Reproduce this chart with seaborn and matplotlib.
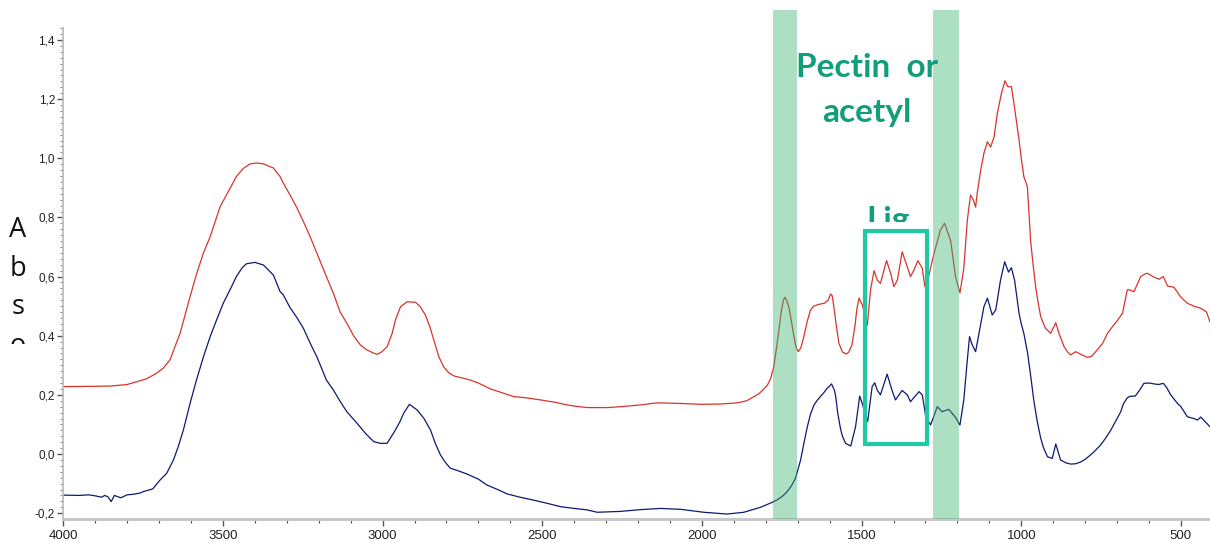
import matplotlib
matplotlib.use("Agg")
import matplotlib.pyplot as plt
import seaborn as sns
from matplotlib.patches import Rectangle
from matplotlib.transforms import Bbox, TransformedBbox
from matplotlib.ticker import MultipleLocator

sns.set_style("white")
plt.rcParams['font.family'] = ['Liberation Sans', 'DejaVu Sans']

# ---------------- data: (wavenumber, absorbance) ----------------
red_spectrum = [
    (3998, 0.228), (3900, 0.229), (3850, 0.230), (3800, 0.235), (3740, 0.254), (3708, 0.273), (3687, 0.290),
    (3665, 0.320), (3646, 0.375), (3634, 0.409), (3603, 0.532), (3582, 0.611), (3561, 0.680), (3540, 0.735),
    (3509, 0.836), (3478, 0.898), (3458, 0.938), (3437, 0.965), (3415, 0.981), (3395, 0.984), (3373, 0.981),
    (3342, 0.967), (3321, 0.938), (3311, 0.916), (3290, 0.876), (3270, 0.836), (3248, 0.786), (3227, 0.735),
    (3206, 0.679), (3176, 0.600), (3154, 0.543), (3133, 0.480), (3112, 0.442), (3091, 0.400), (3070, 0.369),
    (3049, 0.352), (3030, 0.342), (3017, 0.337), (3002, 0.346), (2986, 0.363), (2970, 0.408), (2960, 0.453),
    (2944, 0.498), (2923, 0.515), (2897, 0.513), (2882, 0.498), (2866, 0.470), (2852, 0.430), (2840, 0.386),
    (2824, 0.329), (2809, 0.295), (2793, 0.275), (2777, 0.264), (2750, 0.257), (2725, 0.250), (2700, 0.240),
    (2662, 0.220), (2620, 0.205), (2589, 0.194), (2550, 0.190), (2506, 0.183), (2460, 0.175), (2422, 0.166),
    (2400, 0.162), (2359, 0.157), (2297, 0.157), (2255, 0.160), (2192, 0.166), (2140, 0.173), (2067, 0.171),
    (2004, 0.168), (1942, 0.169), (1889, 0.173), (1860, 0.180), (1837, 0.194), (1820, 0.205), (1795, 0.233),
    (1785, 0.255), (1775, 0.295), (1765, 0.370), (1759, 0.419), (1752, 0.480), (1745, 0.520), (1740, 0.530),
    (1735, 0.520), (1728, 0.498), (1720, 0.450), (1712, 0.397), (1705, 0.360), (1698, 0.346), (1690, 0.360),
    (1681, 0.397), (1670, 0.450), (1660, 0.487), (1650, 0.500), (1634, 0.506), (1616, 0.510), (1605, 0.520),
    (1597, 0.541), (1592, 0.535), (1587, 0.498), (1580, 0.440), (1571, 0.374), (1560, 0.345), (1548, 0.338),
    (1540, 0.345), (1530, 0.370), (1520, 0.440), (1515, 0.490), (1508, 0.527), (1498, 0.505), (1482, 0.436),
    (1472, 0.555), (1461, 0.620), (1451, 0.588), (1441, 0.577), (1422, 0.654), (1409, 0.611), (1399, 0.566),
    (1388, 0.588), (1373, 0.684), (1357, 0.633), (1347, 0.600), (1336, 0.622), (1324, 0.654), (1310, 0.628),
    (1302, 0.566), (1294, 0.583), (1273, 0.679), (1253, 0.758), (1240, 0.780), (1221, 0.720), (1206, 0.600),
    (1192, 0.545), (1180, 0.628), (1169, 0.790), (1159, 0.876), (1150, 0.859), (1143, 0.835), (1138, 0.882),
    (1127, 0.960), (1117, 1.017), (1106, 1.056), (1096, 1.038), (1085, 1.073), (1075, 1.152), (1062, 1.220),
    (1051, 1.262), (1042, 1.242), (1031, 1.242), (1023, 1.186), (1007, 1.062), (1000, 1.000), (992, 0.938),
    (981, 0.904), (975, 0.800), (971, 0.724), (963, 0.640), (955, 0.566), (947, 0.510), (939, 0.464),
    (930, 0.440), (924, 0.425), (908, 0.408), (892, 0.444), (882, 0.408), (866, 0.363), (855, 0.345),
    (845, 0.335), (830, 0.346), (810, 0.335), (793, 0.327), (780, 0.330), (762, 0.352), (745, 0.375),
    (730, 0.408), (715, 0.430), (700, 0.450), (683, 0.476), (668, 0.555), (660, 0.555), (647, 0.549),
    (626, 0.600), (610, 0.610), (605, 0.611), (584, 0.598), (569, 0.591), (555, 0.600), (542, 0.568),
    (522, 0.564), (500, 0.530), (480, 0.510), (460, 0.500), (438, 0.493), (420, 0.480), (409, 0.447),
]

blue_spectrum = [
    (3998, -0.139), (3950, -0.140), (3920, -0.138), (3897, -0.142), (3880, -0.146), (3870, -0.140),
    (3860, -0.145), (3850, -0.161), (3840, -0.140), (3820, -0.148), (3800, -0.138), (3780, -0.136),
    (3760, -0.132), (3749, -0.127), (3720, -0.118), (3697, -0.088), (3676, -0.065), (3655, -0.020),
    (3640, 0.025), (3624, 0.081), (3603, 0.171), (3583, 0.250), (3561, 0.329), (3540, 0.397), (3520, 0.453),
    (3499, 0.510), (3478, 0.555), (3458, 0.600), (3441, 0.628), (3427, 0.643), (3400, 0.648), (3373, 0.639),
    (3342, 0.605), (3321, 0.549), (3311, 0.538), (3290, 0.495), (3270, 0.464), (3248, 0.425), (3227, 0.375),
    (3206, 0.329), (3176, 0.250), (3154, 0.216), (3133, 0.178), (3112, 0.143), (3080, 0.104), (3054, 0.070),
    (3028, 0.042), (3007, 0.036), (2986, 0.036), (2960, 0.081), (2946, 0.109), (2934, 0.138), (2916, 0.168),
    (2892, 0.149), (2871, 0.121), (2850, 0.081), (2835, 0.036), (2819, -0.003), (2803, -0.029), (2788, -0.048),
    (2760, -0.058), (2735, -0.068), (2700, -0.085), (2673, -0.105), (2640, -0.120), (2610, -0.135),
    (2570, -0.146), (2527, -0.156), (2480, -0.168), (2443, -0.178), (2400, -0.184), (2359, -0.189),
    (2328, -0.197), (2255, -0.194), (2192, -0.188), (2130, -0.184), (2067, -0.187), (1994, -0.197),
    (1921, -0.203), (1869, -0.197), (1816, -0.180), (1800, -0.173), (1790, -0.168), (1775, -0.161),
    (1760, -0.152), (1745, -0.140), (1733, -0.127), (1720, -0.108), (1707, -0.082), (1700, -0.055),
    (1691, -0.020), (1680, 0.040), (1670, 0.092), (1660, 0.135), (1649, 0.166), (1640, 0.180), (1628, 0.196),
    (1620, 0.205), (1608, 0.222), (1600, 0.230), (1594, 0.237), (1585, 0.215), (1581, 0.194), (1575, 0.140),
    (1566, 0.085), (1560, 0.060), (1550, 0.036), (1534, 0.027), (1519, 0.092), (1506, 0.196), (1498, 0.171),
    (1481, 0.110), (1467, 0.228), (1459, 0.241), (1451, 0.216), (1441, 0.200), (1420, 0.270), (1405, 0.216),
    (1394, 0.183), (1373, 0.215), (1357, 0.200), (1347, 0.177), (1320, 0.211), (1310, 0.200), (1299, 0.126),
    (1284, 0.098), (1263, 0.160), (1248, 0.143), (1227, 0.151), (1206, 0.124), (1192, 0.098), (1180, 0.183),
    (1169, 0.318), (1162, 0.397), (1154, 0.370), (1143, 0.346), (1127, 0.440), (1117, 0.498), (1106, 0.527),
    (1091, 0.470), (1080, 0.487), (1065, 0.588), (1052, 0.650), (1040, 0.615), (1031, 0.630), (1021, 0.588),
    (1007, 0.476), (1000, 0.440), (992, 0.408), (980, 0.340), (970, 0.260), (961, 0.183), (950, 0.110),
    (939, 0.053), (930, 0.020), (918, -0.009), (903, -0.015), (892, 0.034), (877, -0.020), (860, -0.030),
    (845, -0.034), (830, -0.033), (814, -0.027), (800, -0.018), (783, -0.003), (770, 0.010), (752, 0.030),
    (735, 0.055), (720, 0.080), (705, 0.110), (689, 0.142), (680, 0.170), (668, 0.190), (660, 0.195),
    (643, 0.196), (630, 0.215), (616, 0.239), (600, 0.240), (584, 0.237), (570, 0.235), (555, 0.239),
    (545, 0.225), (532, 0.200), (510, 0.170), (500, 0.160), (480, 0.126), (460, 0.120), (448, 0.115),
    (438, 0.125), (425, 0.110), (409, 0.092),
]

red_wn = [p[0] for p in red_spectrum]
red_abs = [p[1] for p in red_spectrum]
blue_wn = [p[0] for p in blue_spectrum]
blue_abs = [p[1] for p in blue_spectrum]

xtick_vals = [4000, 3500, 3000, 2500, 2000, 1500, 1000, 500]
xtick_labels = ["4000", "3500", "3000", "2500", "2000", "1500", "1000", "500"]
ytick_vals = [-0.2, 0.0, 0.2, 0.4, 0.6, 0.8, 1.0, 1.2, 1.4]
ytick_labels = ["-0,2", "0,0", "0,2", "0,4", "0,6", "0,8", "1,0", "1,2", "1,4"]

band_ranges = [(1776, 1701), (1278, 1196)]
lignin_box = (1488, 1295, 0.034, 0.755)

# ---------------- figure ----------------
fig = plt.figure(figsize=(12.1, 5.42), dpi=100)
ax = fig.add_axes([0.0523, 0.0424, 0.9477, 0.9066])

sns.lineplot(x=red_wn, y=red_abs, estimator=None, color='#d8342c', lw=0.9, ax=ax, zorder=2)
sns.lineplot(x=blue_wn, y=blue_abs, estimator=None, color='#0c1a72', lw=0.9, ax=ax, zorder=2)

ax.set_xlim(4000, 409)
ax.set_ylim(-0.2198, 1.4417)

for a, b in band_ranges:
    ax.axvspan(a, b, ymin=0, ymax=1.036, color='#3cb371', alpha=0.42, lw=0, clip_on=False, zorder=3)

x0, x1, y0, y1 = lignin_box
ax.add_patch(Rectangle((x0, y0), x1 - x0, y1 - y0, fill=False, edgecolor='#1fc9a3', lw=3.0, zorder=4))

ax.set_xticks(xtick_vals)
ax.set_xticklabels(xtick_labels)
ax.set_yticks(ytick_vals)
ax.set_yticklabels(ytick_labels)
ax.xaxis.set_minor_locator(MultipleLocator(100))
ax.yaxis.set_minor_locator(MultipleLocator(0.02))
ax.set_xlabel('')
ax.set_ylabel('')

ax.tick_params(axis='x', which='major', direction='out', length=5, width=1, color='#555555',
               labelsize=9.5, labelcolor='#222222', pad=3, bottom=True)
ax.tick_params(axis='x', which='minor', direction='out', length=3, width=0.8, color='#555555', bottom=True)
ax.tick_params(axis='y', which='major', direction='out', length=4, width=1, color='#555555',
               labelsize=8.5, labelcolor='#222222', pad=2, left=True)
ax.tick_params(axis='y', which='minor', direction='out', length=2.2, width=0.6, color='#777777', left=True)

for s in ['top', 'right']:
    ax.spines[s].set_visible(False)
ax.spines['left'].set_color('#b8b8b8')
ax.spines['left'].set_linewidth(1.2)
ax.spines['bottom'].set_color('#c8c8c8')
ax.spines['bottom'].set_linewidth(2.2)

# annotations
teal = '#129e7b'
fig.text(867 / 1210, 1 - 77 / 542, 'Pectin  or', ha='center', va='baseline', fontsize=24,
         fontweight='bold', color=teal, family=['Lato', 'DejaVu Sans'])
fig.text(867 / 1210, 1 - 122 / 542, 'acetyl', ha='center', va='baseline', fontsize=24,
         fontweight='bold', color=teal, family=['Lato', 'DejaVu Sans'])
lig = fig.text(866 / 1210, 1 - 230 / 542, 'Lig', ha='left', va='baseline', fontsize=24,
               fontweight='bold', color=teal, family=['Lato', 'DejaVu Sans'])
lig.set_clip_on(True)
lig.set_clip_box(TransformedBbox(Bbox.from_extents(0.6, 1 - 222.5 / 542, 0.85, 1.0), fig.transFigure))

ylabel_letters = ['A', 'b', 's', 'o']
baselines = [237, 276, 314, 353]
for ch, bl in zip(ylabel_letters, baselines):
    t = fig.text(17.8 / 1210, 1 - bl / 542, ch, ha='center', va='baseline', fontsize=19.5,
                 color='#111111', family=['Open Sans', 'DejaVu Sans'])
    t.set_clip_on(True)
    t.set_clip_box(TransformedBbox(Bbox.from_extents(0.0, 1 - 344 / 542, 0.05, 1.0), fig.transFigure))

fig.savefig('out.png', dpi=100)
